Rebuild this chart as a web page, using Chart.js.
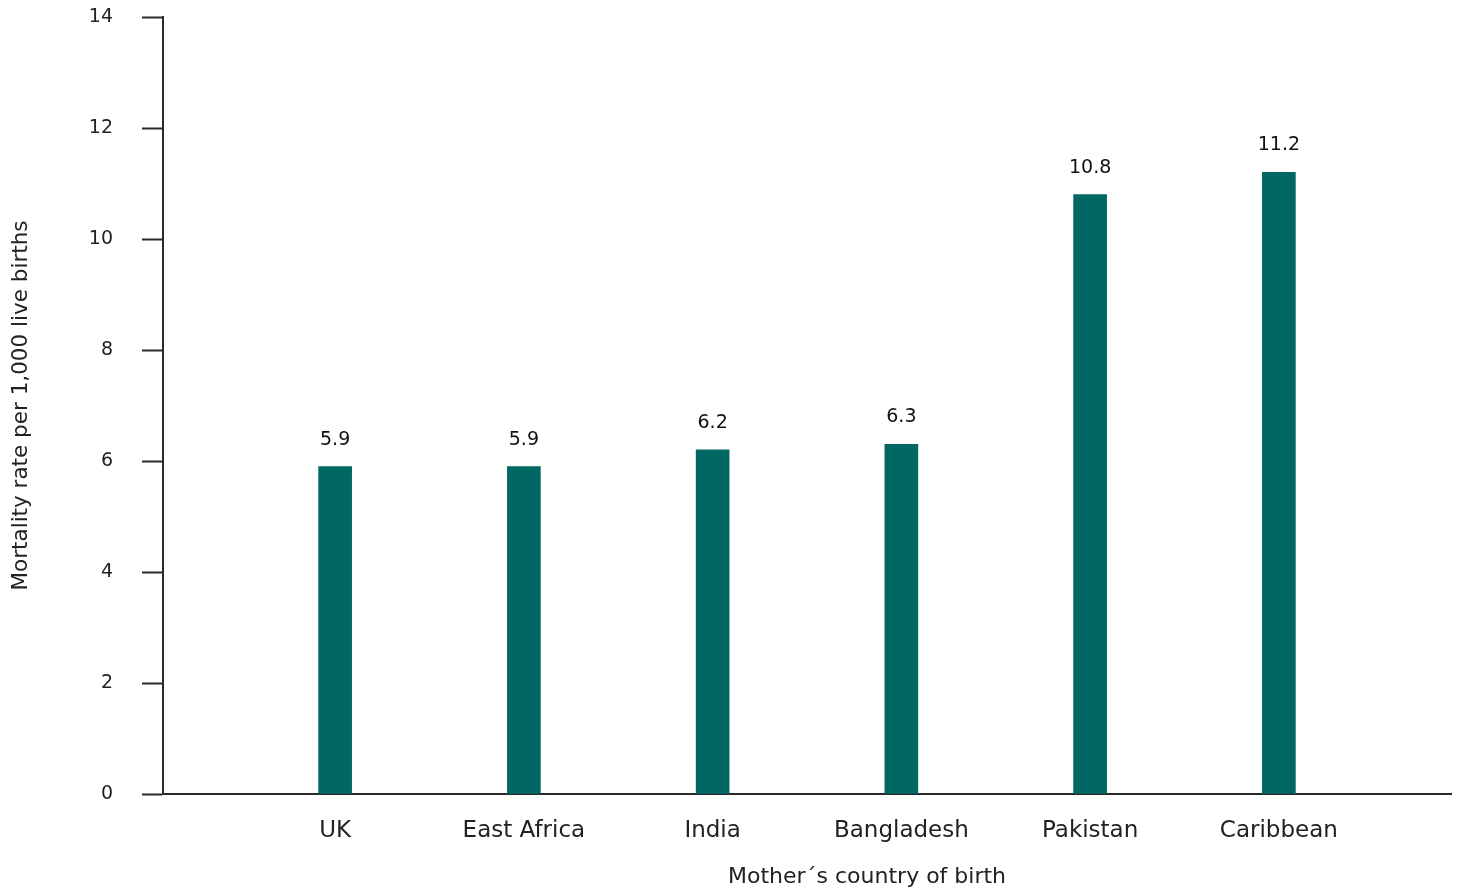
<!DOCTYPE html>
<html>
<head>
<meta charset="utf-8">
<title>Mortality rate by mother's country of birth</title>
<script src="https://cdn.jsdelivr.net/npm/chart.js@4/dist/chart.umd.min.js"></script>
<style>
  html, body { margin: 0; padding: 0; background: #fff; }
  #wrap { width: 1460px; height: 888px; position: relative; }
</style>
</head>
<body>
<div id="wrap"><canvas id="mortalityChart"></canvas></div>
<script>
// data
const countries = ['UK', 'East Africa', 'India', 'Bangladesh', 'Pakistan', 'Caribbean'];
const mortalityRates = [5.9, 5.9, 6.2, 6.3, 10.8, 11.2];
const yTicks = [0, 2, 4, 6, 8, 10, 12, 14];

const yTitle = 'Mortality rate per 1,000 live births';
const xTitle = 'Mother´s country of birth';

const barColor = '#006763';
const inkColor = '#222222';
const axisColor = '#2a2a2a';
const fontFamily = '"DejaVu Sans", sans-serif';

// value labels above the bars
const valueLabels = {
  id: 'valueLabels',
  afterDatasetsDraw(chart) {
    const ctx = chart.ctx;
    const meta = chart.getDatasetMeta(0);
    ctx.save();
    ctx.font = '19px ' + fontFamily;
    ctx.fillStyle = '#111';
    ctx.textAlign = 'center';
    ctx.textBaseline = 'alphabetic';
    meta.data.forEach((bar, i) => {
      ctx.fillText(String(mortalityRates[i]), bar.x, bar.y - 22);
    });
    ctx.restore();
  }
};

// x title sits a bit right of the plot centre in the original
const xAxisTitle = {
  id: 'xAxisTitle',
  afterDraw(chart) {
    const ctx = chart.ctx;
    const area = chart.chartArea;
    ctx.save();
    ctx.font = '22px ' + fontFamily;
    ctx.fillStyle = inkColor;
    ctx.textAlign = 'center';
    ctx.textBaseline = 'alphabetic';
    ctx.fillText(xTitle, (area.left + area.right) / 2 + 60, 883);
    ctx.restore();
  }
};

function initChart() {
  const ctx = document.getElementById('mortalityChart').getContext('2d');
  new Chart(ctx, {
    type: 'bar',
    data: {
      datasets: [{
        data: mortalityRates.map((v, i) => ({ x: i, y: v })),
        backgroundColor: barColor,
        barThickness: 33
      }]
    },
    options: {
      responsive: true,
      maintainAspectRatio: false,
      animation: false,
      layout: { padding: { top: 17, right: 9, bottom: 0, left: 0 } },
      plugins: {
        legend: { display: false },
        tooltip: { enabled: false }
      },
      scales: {
        x: {
          type: 'linear',
          offset: false,
          min: -0.912,
          max: countries.length - 1 + 0.912,
          grid: { display: false, drawTicks: false },
          border: { display: true, color: axisColor, width: 2 },
          ticks: {
            stepSize: 1,
            includeBounds: false,
            autoSkip: false,
            maxRotation: 0,
            padding: 23,
            color: inkColor,
            font: { family: fontFamily, size: 23 },
            callback: v => Number.isInteger(v) && countries[v] ? countries[v] : ''
          },
          afterFit: scale => { scale.height = 94; }
        },
        y: {
          min: 0,
          max: 14,
          afterBuildTicks: scale => { scale.ticks = yTicks.map(v => ({ value: v })); },
          grid: {
            drawOnChartArea: false,
            drawTicks: true,
            tickLength: 21,
            tickColor: axisColor,
            tickWidth: 2
          },
          border: { display: true, color: axisColor, width: 2 },
          ticks: {
            padding: 29,
            color: inkColor,
            font: { family: fontFamily, size: 19 }
          },
          title: {
            display: true,
            text: yTitle,
            color: inkColor,
            font: { family: fontFamily, size: 21.5 },
            padding: { top: 9, bottom: 0 }
          },
          afterFit: scale => {
            scale.width = 163;
            scale.paddingTop = 0;
            scale.paddingBottom = 0;
          }
        }
      }
    },
    plugins: [valueLabels, xAxisTitle]
  });
}

document.addEventListener('DOMContentLoaded', initChart);
</script>
</body>
</html>
